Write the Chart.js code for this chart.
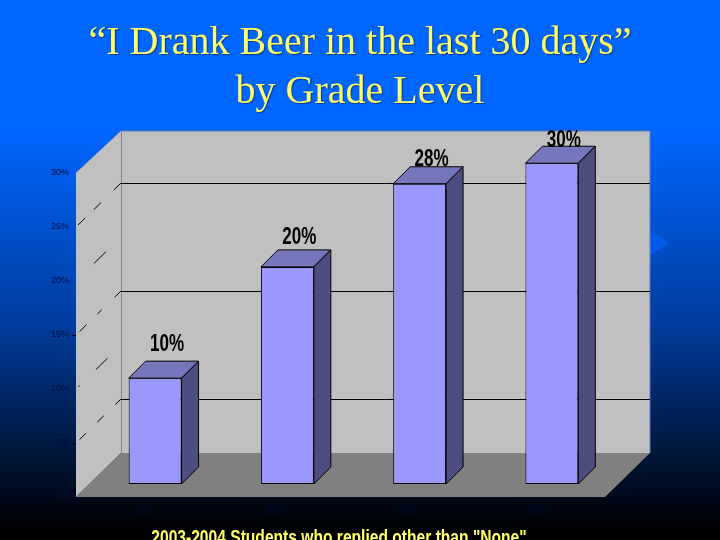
<!DOCTYPE html>
<html>
<head>
<meta charset="utf-8">
<title>I Drank Beer by Grade Level</title>
<script src="https://cdn.jsdelivr.net/npm/chart.js@4"></script>
<style>
    html, body { margin: 0; padding: 0; }
    body {
        width: 720px; height: 540px; overflow: hidden; position: relative;
        background: linear-gradient(to bottom, #0066ff 0, #0066ff 130px, #003da0 320px, #000000 530px);
    }
    #mark {
        position: absolute; left: 640px; top: 224px; width: 29px; height: 38px;
        background: #005ce8; clip-path: polygon(0 0, 100% 50%, 0 100%);
    }
    #heading {
        position: absolute; left: 0; top: 16px; width: 720px; text-align: center;
        font: 40px/49px "Liberation Serif", serif; color: #ffff66;
        text-shadow: 1px 1px 1px #003a99;
    }
    #note {
        position: absolute; left: -21px; top: 526px; width: 720px; text-align: center; white-space: nowrap;
        font: bold 20px/22px "Liberation Sans", sans-serif; color: #ffff66;
        transform: scaleX(0.78);
    }
    #wrap { position: absolute; left: 0; top: 0; width: 720px; height: 540px; }
    canvas { display: block; }
</style>
</head>
<body>
<div id="mark"></div>
<div id="wrap"><canvas id="beerChart" width="720" height="540"></canvas></div>
<div id="heading">“I Drank Beer in the last 30 days”<br>by Grade Level</div>
<div id="note">2003-2004 Students who replied other than "None"</div>
<script>
const grades = ['8th', '9th', '10th', '11th'];
const percents = [9.8, 20.1, 27.8, 29.7];
const gridValues = [5, 15, 25];
const tickMarkValues = [5, 15];
const dashValues = [5, 10, 15, 20, 25];
const dashRuns = [
    [8, 16, 9, 16, 9, 10],
    [0, 19, 16, 23, 2, 10],
    [9, 18, 6, 15, 10, 10],
    [0, 21, 17, 30],
    [10, 18, 10, 12, 10, 10],
];
const labelLift = [34, 30, 24, 23];

// fake 3d, the walls hang off the scales
const roomDepth = 45;
const roomRise = 44;
const barDepth = 17;
const frontGap = 13;

function shape(ctx, pts, fill, stroke) {
    ctx.beginPath();
    pts.forEach((p, i) => i ? ctx.lineTo(p[0], p[1]) : ctx.moveTo(p[0], p[1]));
    ctx.closePath();
    ctx.fillStyle = fill;
    ctx.fill();
    if (stroke) {
        ctx.strokeStyle = stroke;
        ctx.lineWidth = 1;
        ctx.stroke();
    }
}

const room = {
    id: 'room',
    beforeDatasetsDraw(chart) {
        const ctx = chart.ctx;
        const axis = chart.scales.yFront;
        const area = chart.chartArea;
        const left = area.left - frontGap;
        const right = area.right - frontGap;
        const top = axis.getPixelForValue(30);
        const bottom = axis.getPixelForValue(0);
        const backLeft = left + roomDepth;
        const backRight = right + roomDepth;
        ctx.save();
        // back wall
        shape(ctx, [[backLeft, top - 42], [backRight, top - 42], [backRight, bottom - roomRise], [backLeft, bottom - roomRise]], '#c0c0c0');
        ctx.strokeStyle = '#5b7fc0';
        ctx.lineWidth = 1;
        ctx.beginPath();
        ctx.moveTo(left, top);
        ctx.lineTo(backLeft, top - 42);
        ctx.lineTo(backRight, top - 42);
        ctx.lineTo(backRight, bottom - roomRise);
        ctx.stroke();
        // side wall and floor
        shape(ctx, [[left, top], [backLeft, top - 42], [backLeft, bottom - roomRise], [left, bottom]], '#c0c0c0');
        shape(ctx, [[backLeft, bottom - roomRise], [backRight, bottom - roomRise], [right, bottom], [left, bottom]], '#808080');
        ctx.strokeStyle = '#808080';
        ctx.beginPath();
        ctx.moveTo(backLeft + 0.5, top - 42);
        ctx.lineTo(backLeft + 0.5, bottom - roomRise);
        ctx.stroke();
        // grid lines
        ctx.strokeStyle = '#000000';
        gridValues.forEach(v => {
            const y = Math.round(axis.getPixelForValue(v) - roomRise) + 0.5;
            ctx.beginPath();
            ctx.moveTo(backLeft, y);
            ctx.lineTo(backRight, y);
            ctx.stroke();
        });
        tickMarkValues.forEach(v => {
            const y = Math.round(axis.getPixelForValue(v)) + 0.5;
            ctx.beginPath();
            ctx.moveTo(left - 4, y);
            ctx.lineTo(left, y);
            ctx.stroke();
        });
        dashValues.forEach((v, i) => {
            const y = axis.getPixelForValue(v);
            ctx.setLineDash(dashRuns[i]);
            ctx.beginPath();
            ctx.moveTo(backLeft, y - roomRise);
            ctx.lineTo(left, y);
            ctx.stroke();
        });
        ctx.restore();
    },
    afterDatasetsDraw(chart) {
        const ctx = chart.ctx;
        const bars = chart.getDatasetMeta(0).data;
        ctx.save();
        bars.forEach((bar, i) => {
            const l = bar.x - bar.width / 2;
            const r = bar.x + bar.width / 2;
            shape(ctx, [[l, bar.y], [l + barDepth, bar.y - barDepth], [r + barDepth, bar.y - barDepth], [r, bar.y]], '#7676bc', '#000000');
            shape(ctx, [[r, bar.y], [r + barDepth, bar.y - barDepth], [r + barDepth, bar.base - barDepth], [r, bar.base]], '#4d4d80', '#000000');
        });
        ctx.fillStyle = '#000000';
        ctx.font = 'bold 24px "Liberation Sans", sans-serif';
        ctx.textAlign = 'center';
        ctx.textBaseline = 'middle';
        bars.forEach((bar, i) => {
            // labels in the slide are squeezed sideways
            ctx.save();
            ctx.translate(bar.x + 12, bar.y - labelLift[i]);
            ctx.scale(0.71, 1);
            ctx.fillText(Math.round(percents[i]) + '%', 0, 0);
            ctx.restore();
        });
        ctx.restore();
    }
};

new Chart(document.getElementById('beerChart'), {
    type: 'bar',
    data: {
        labels: grades,
        datasets: [{
            data: percents,
            backgroundColor: '#9999ff',
            borderColor: '#000000',
            borderWidth: 1,
            borderSkipped: false,
            categoryPercentage: 1,
            barPercentage: 0.4,
            yAxisID: 'y',
        }],
    },
    options: {
        responsive: false,
        animation: false,
        layout: { padding: { top: 160, right: 102, bottom: 0, left: 0 } },
        plugins: { legend: { display: false }, tooltip: { enabled: false } },
        scales: {
            x: {
                grid: { display: false },
                border: { display: false },
                ticks: {
                    color: '#000a30',
                    font: { family: 'Liberation Sans', size: 10 },
                    labelOffset: -13,
                    padding: 0,
                    maxRotation: 0,
                },
                afterFit(scale) { scale.height = 43; },
            },
            // bars stand a little in from the front edge of the floor
            y: { display: false, min: -frontGap / 10.8, max: 30 },
            yFront: {
                position: 'left',
                min: 0,
                max: 30 + frontGap / 10.8,
                grid: { display: false },
                border: { display: false },
                ticks: {
                    stepSize: 5,
                    color: '#000a40',
                    padding: 12,
                    font: { family: 'Liberation Sans', size: 9 },
                    callback: v => v + '%',
                },
                afterBuildTicks(scale) { scale.ticks = scale.ticks.filter(t => t.value % 5 === 0); },
                afterFit(scale) { scale.width = 89; },
            },
        },
    },
    plugins: [room],
});
</script>
</body>
</html>
